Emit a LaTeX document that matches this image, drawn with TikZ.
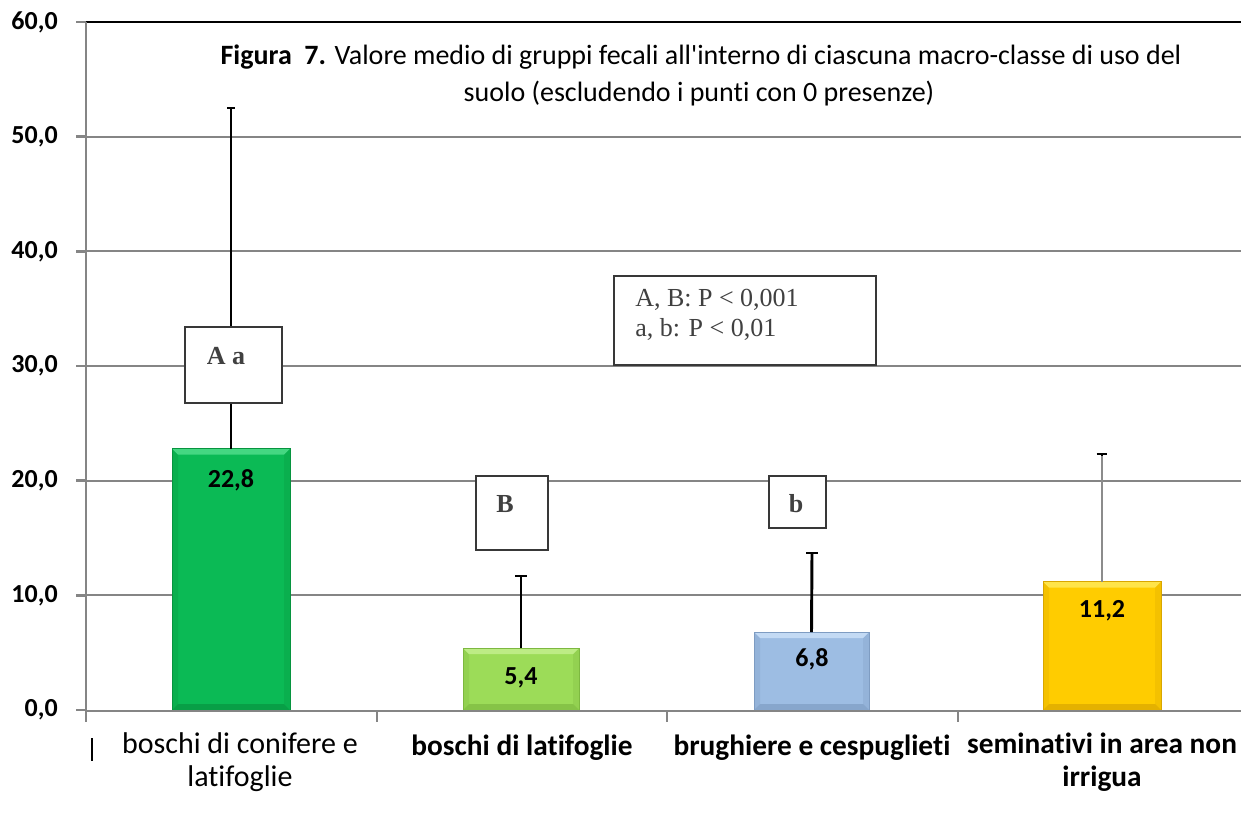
\documentclass[tikz,border=0pt]{standalone}
\usepackage{fontspec}
\setmainfont{Carlito}[Ligatures={NoCommon,TeXOff}]
\newfontfamily\serifff{Liberation Serif}
\begin{document}
\begin{tikzpicture}[x=0.75pt,y=-0.75pt,
  grid/.style={draw=black!48,line width=1.5pt},
  axisline/.style={draw=black!48,line width=2pt},
  ticklbl/.style={font=\fontsize{19.5}{22}\selectfont\bfseries,anchor=east,inner sep=0pt},
  vallbl/.style={font=\fontsize{19.5}{22}\selectfont\bfseries,inner sep=0pt},
  catlbl/.style={font=\fontsize{22}{24.75}\selectfont\bfseries,align=center,inner sep=0pt},
  catlblr/.style={font=\fontsize{22.5}{24.75}\selectfont,align=center,inner sep=0pt},
  errbar/.style={draw=black,line width=2.2pt},
  annbox/.style={draw=black!78,line width=1.6pt,fill=white},
  anntxt/.style={font=\serifff\fontsize{19.5}{22}\selectfont\bfseries,text=black!75,inner sep=0pt},
  legtxt/.style={font=\serifff\fontsize{19.5}{22.5}\selectfont,text=black!75,inner sep=0pt,align=left},
  titlefont/.style={font=\fontsize{21}{22}\selectfont,inner sep=0pt}
]
\definecolor{gA}{HTML}{0BBA55}\definecolor{gAl}{HTML}{45D782}\definecolor{gAd}{HTML}{07943F}
\definecolor{gB}{HTML}{9CDC58}\definecolor{gBl}{HTML}{BDEC85}\definecolor{gBd}{HTML}{7DB840}
\definecolor{bC}{HTML}{9DBDE3}\definecolor{bCl}{HTML}{C3DAF4}\definecolor{bCd}{HTML}{7E9CC2}
\definecolor{yD}{HTML}{FFCC00}\definecolor{yDl}{HTML}{FFE44A}\definecolor{yDd}{HTML}{D9A600}
\useasboundingbox (0,0) rectangle (1241,813);
\fill[white] (0,0) rectangle (1241,813);
% grid
\foreach \v in {10,20,30,40,50}{\draw[grid] (86,{710-11.467*\v}) -- (1241,{710-11.467*\v});}
\draw[draw=black,line width=1.5pt] (86,22) -- (1241,22);
% y axis
\draw[axisline] (86,22) -- (86,711);
\foreach \v in {0,10,20,30,40,50,60}{
  \draw[axisline] (76,{710-11.467*\v}) -- (86,{710-11.467*\v});
  \node[ticklbl] (t\v) at (58,{710-11.467*\v}) {\v,0};}
% bars
\newcommand{\drawbar}[7]{% x1 x2 ytop main light dark name
  \fill[#4] (#1,#3) rectangle (#2,710);
  \fill[#6!30!#4] (#1,#3) -- (#1+6,#3+6) -- (#1+6,704) -- (#1,710) -- cycle;
  \fill[#6!30!#4] (#2,#3) -- (#2-6,#3+6) -- (#2-6,704) -- (#2,710) -- cycle;
  \fill[#5] (#1,#3) -- (#2,#3) -- (#2-6,#3+6) -- (#1+6,#3+6) -- cycle;
  \fill[#6!70!#4] (#1,710) -- (#2,710) -- (#2-6,704) -- (#1+6,704) -- cycle;
  \draw[#6,line width=0.6pt] (#1,#3) rectangle (#2,710);
  \coordinate (#7) at ({(#1+#2)/2},#3);}
\drawbar{172}{290}{448.6}{gA}{gAl}{gAd}{barA}
\drawbar{463}{579}{648}{gB}{gBl}{gBd}{barB}
\drawbar{754}{869}{632}{bC}{bCl}{bCd}{barC}
\drawbar{1043}{1161}{581.6}{yD}{yDl}{yDd}{barD}
% error bars
\coordinate (eA) at (231,108); \coordinate (eB) at (521,576);
\coordinate (eC) at (812,553); \coordinate (eD) at (1102,454);
\draw[errbar] (barA) -- (eA); \draw[errbar] ([xshift=-3pt]eA) -- ([xshift=3pt]eA);
\draw[errbar] (barB) -- (eB); \draw[errbar] ([xshift=-4.5pt]eB) -- ([xshift=4.5pt]eB);
\draw[errbar] (barC) -- (eC); \draw[errbar] ([xshift=-4.5pt]eC) -- ([xshift=4.5pt]eC);
\draw[errbar] (barD) -- (eD); \draw[draw=black!45,line width=0.8pt] (barD) -- ([yshift=-1.5pt]eD);
\draw[errbar] ([xshift=-4pt]eD) -- ([xshift=4pt]eD);
% value labels
\node[vallbl] (vA) at (231,480) {22,8};
\node[vallbl] (vB) at (521,678) {5,4};
\node[vallbl] (vC) at (812,659) {6,8};
\node[vallbl] (vD) at (1102,611) {11,2};
% x axis
\draw[axisline] (86,711) -- (1241,711);
\foreach \x in {86,377,667,958}{\draw[axisline] (\x,711) -- (\x,722);}
\draw[draw=black,line width=0.8pt] (92,738) -- (92,761);
% category labels
\node[catlblr] (c1) at (240,762) {boschi di conifere e\\latifoglie};
\node[catlbl] (c2) at (522,748) {boschi di latifoglie};
\node[catlbl] (c3) at (812,748) {brughiere e cespuglieti};
\node[catlbl] (c4) at (1102,762) {seminativi in area non\\irrigua};
% annotation boxes
\draw[annbox] (185,327) rectangle (282,403);
\node[anntxt] (aAa) at (226,356) {A a};
\draw[annbox] (476,476) rectangle (548,550);
\node[anntxt] (aB) at (505,504) {B};
\draw[annbox] (769,476) rectangle (826,528);
\node[anntxt] (ab) at (796,504) {b};
\draw[annbox,line width=1.2pt] (614,276) rectangle (876,365);
\node[legtxt,anchor=north west] (leg) at (635,289) {A, B: P < 0,001\\a, b: P < 0,01};
% title
\node[titlefont] (ti1) at (701,57) {\textbf{Figura\ \ 7.} Valore medio di gruppi fecali all'interno di ciascuna macro-classe di uso del};
\node[titlefont] (ti2) at (699,94) {suolo (escludendo i punti con 0 presenze)};
\end{tikzpicture}
\end{document}
